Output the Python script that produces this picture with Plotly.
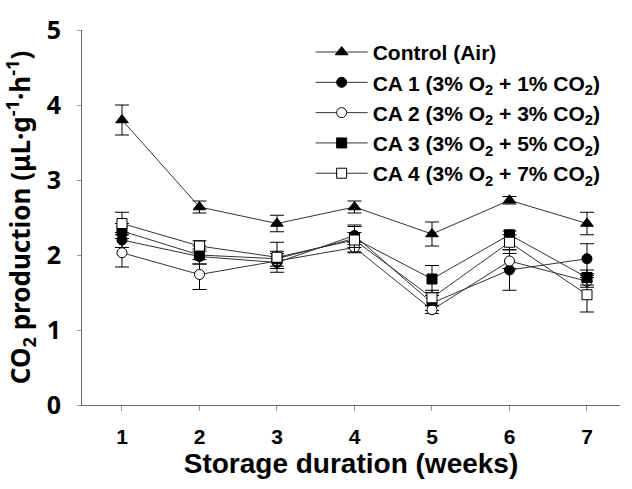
import plotly.graph_objects as go

weeks = [1, 2, 3, 4, 5, 6, 7]

control = [3.80, 2.64, 2.42, 2.64, 2.28, 2.73, 2.42]
control_err = [0.20, 0.08, 0.11, 0.08, 0.16, 0.05, 0.15]

ca1 = [2.20, 1.98, 1.90, 2.26, 1.36, 1.80, 1.95]
ca1_err = [0.10, 0.10, 0.08, 0.12, 0.10, 0.27, 0.20]

ca2 = [2.03, 1.74, 1.92, 2.10, 1.27, 1.92, 1.65]
ca2_err = [0.19, 0.20, 0.10, 0.07, 0.05, 0.10, 0.08]

ca3 = [2.32, 2.00, 1.95, 2.22, 1.68, 2.27, 1.70]
ca3_err = [0.10, 0.12, 0.10, 0.18, 0.18, 0.05, 0.10]

ca4 = [2.42, 2.12, 1.97, 2.20, 1.43, 2.17, 1.47]
ca4_err = [0.15, 0.07, 0.20, 0.10, 0.10, 0.10, 0.23]

names = [
    "Control (Air)",
    "CA 1 (3% O<sub>2</sub> + 1% CO<sub>2</sub>)",
    "CA 2 (3% O<sub>2</sub> + 3% CO<sub>2</sub>)",
    "CA 3 (3% O<sub>2</sub> + 5% CO<sub>2</sub>)",
    "CA 4 (3% O<sub>2</sub> + 7% CO<sub>2</sub>)",
]
series = [control, ca1, ca2, ca3, ca4]
errors = [control_err, ca1_err, ca2_err, ca3_err, ca4_err]
symbols = ["triangle-up", "circle", "circle", "square", "square"]
fills = ["black", "black", "white", "black", "white"]
sizes = [11, 10, 10, 10, 10]

fig = go.Figure()
for name, ys, err, sym, fc, sz in zip(names, series, errors, symbols, fills, sizes):
    fig.add_trace(go.Scatter(
        x=weeks, y=ys, name=name, mode="lines+markers",
        line=dict(color="#333333", width=1),
        marker=dict(symbol=sym, size=sz, color=fc, line=dict(color="black", width=1)),
        error_y=dict(type="data", array=err, visible=True, color="black", thickness=1, width=7),
    ))

fig.update_layout(
    width=632, height=489,
    margin=dict(l=82, r=12, t=22, b=84),
    plot_bgcolor="white", paper_bgcolor="white",
    showlegend=True,
    legend=dict(
        x=0.425, y=0.995, xanchor="left", yanchor="top",
        font=dict(family="Liberation Sans, Arial", size=21, color="black", weight="bold"),
        bgcolor="rgba(0,0,0,0)", tracegroupgap=0, itemwidth=52,
    ),
    xaxis=dict(
        range=[0.484, 7.426], tickvals=weeks, ticktext=[str(w) for w in weeks],
        showgrid=False, zeroline=False, showline=True, linecolor="#666666", linewidth=1,
        ticks="outside", ticklen=5, tickcolor="#999999", ticklabelstandoff=8,
        tickfont=dict(family="Liberation Sans, Arial", size=21, color="black", weight="bold"),
        title=dict(text="Storage duration (weeks)", standoff=1,
                   font=dict(family="Liberation Sans, Arial", size=28, color="black", weight="bold")),
    ),
    yaxis=dict(
        range=[0, 5], tickvals=[0, 1, 2, 3, 4, 5],
        showgrid=False, zeroline=False, showline=True, linecolor="#666666", linewidth=1,
        ticks="outside", ticklen=4, tickcolor="#999999", ticklabelstandoff=11,
        tickfont=dict(family="Noto Sans", size=25, color="black", weight="bold"),
        title=dict(text="CO<sub>2</sub> production (μL·g<sup>-1</sup>·h<sup>-1</sup>)", standoff=8,
                   font=dict(family="Noto Sans", size=26, color="black", weight="bold")),
    ),
)

fig.write_html("out.html")
